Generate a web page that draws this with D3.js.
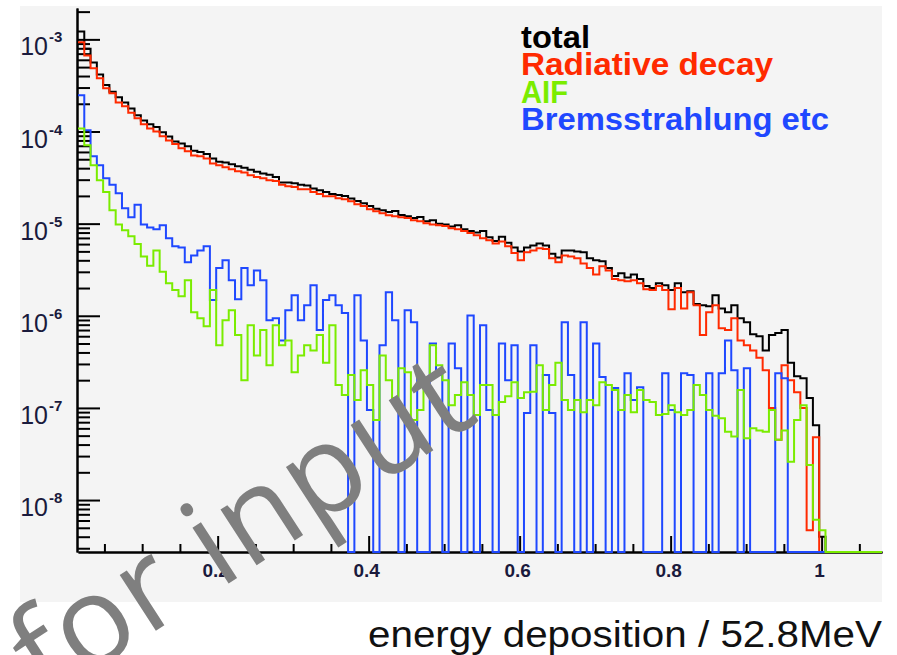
<!DOCTYPE html>
<html>
<head>
<meta charset="utf-8">
<script src="https://cdn.jsdelivr.net/npm/d3@7"></script>
<style>
  body { margin: 0; background: #fff; }
  svg { display: block; }
</style>
</head>
<body>
<svg id="canvas" width="897" height="655"></svg>
<script>
// energy deposition / 52.8MeV, 128 bins between these two edges
let xLow = 0.015
let xHigh = 1.08
let yLow = 2.73e-9
let yHigh = 2.19e-3

// bin contents (0 = empty bin, drawn on the frame bottom like ROOT does)
let total = [
  1.22e-3, 7.9e-4, 5.6e-4, 4.15e-4, 3.2e-4, 2.7e-4, 2.35e-4, 2.07e-4, 1.78e-4, 1.5e-4,
  1.32e-4, 1.2e-4, 1.12e-4, 9.8e-5, 8.8e-5, 7.8e-5, 7.4e-5, 6.9e-5, 6.2e-5, 6.0e-5,
  5.7e-5, 5.1e-5, 4.7e-5, 4.6e-5, 4.4e-5, 4.2e-5, 4.05e-5, 3.85e-5, 3.65e-5, 3.5e-5,
  3.4e-5, 3.2e-5, 2.8e-5, 2.8e-5, 2.75e-5, 2.65e-5, 2.6e-5, 2.4e-5, 2.3e-5, 2.2e-5,
  2.1e-5, 2.05e-5, 2.0e-5, 1.87e-5, 1.76e-5, 1.66e-5, 1.55e-5, 1.45e-5, 1.4e-5, 1.34e-5,
  1.37e-5, 1.24e-5, 1.2e-5, 1.15e-5, 1.18e-5, 1.06e-5, 1.09e-5, 1.0e-5, 9.8e-6, 9.3e-6,
  9.6e-6, 8.7e-6, 8.3e-6, 8.0e-6, 8.3e-6, 7.1e-6, 6.5e-6, 7.2e-6, 6.2e-6, 5.5e-6,
  5.0e-6, 5.5e-6, 5.8e-6, 6.1e-6, 5.8e-6, 4.7e-6, 4.3e-6, 5.1e-6, 5.1e-6, 5.0e-6,
  4.9e-6, 4.2e-6, 4.0e-6, 3.9e-6, 3.3e-6, 2.7e-6, 2.9e-6, 2.6e-6, 2.8e-6, 2.5e-6,
  2.1e-6, 2.0e-6, 2.25e-6, 2.15e-6, 1.9e-6, 2.25e-6, 1.8e-6, 1.85e-6, 1.34e-6, 1.3e-6,
  1.27e-6, 1.67e-6, 1.2e-6, 1.09e-6, 1.3e-6, 9.4e-7, 8.5e-7, 6.3e-7, 6.0e-7, 4.2e-7,
  6.2e-7, 6.5e-7, 7.0e-7, 3.1e-7, 2.2e-7, 2.1e-7, 1.28e-7, 6.5e-8, 4.0e-9, 0,
  0, 0, 0, 0, 0, 0, 0, 0
]
let radiative = [
  9.3e-4, 6.7e-4, 4.85e-4, 3.78e-4, 2.94e-4, 2.6e-4, 2.07e-4, 1.88e-4, 1.6e-4, 1.39e-4,
  1.2e-4, 1.08e-4, 1.0e-4, 8.9e-5, 8.0e-5, 7.3e-5, 6.6e-5, 6.1e-5, 5.5e-5, 5.4e-5,
  5.1e-5, 4.5e-5, 4.3e-5, 4.1e-5, 3.9e-5, 3.7e-5, 3.6e-5, 3.35e-5, 3.2e-5, 3.1e-5,
  2.96e-5, 2.9e-5, 2.65e-5, 2.55e-5, 2.5e-5, 2.36e-5, 2.36e-5, 2.2e-5, 2.1e-5, 1.98e-5,
  1.98e-5, 1.89e-5, 1.84e-5, 1.75e-5, 1.62e-5, 1.55e-5, 1.43e-5, 1.36e-5, 1.3e-5, 1.23e-5,
  1.2e-5, 1.17e-5, 1.15e-5, 1.09e-5, 1.06e-5, 1.01e-5, 9.8e-6, 9.6e-6, 9.4e-6, 8.9e-6,
  8.7e-6, 8.3e-6, 7.9e-6, 7.5e-6, 6.95e-6, 6.6e-6, 6.1e-6, 6.4e-6, 5.7e-6, 4.8e-6,
  4.0e-6, 4.9e-6, 5.1e-6, 5.4e-6, 5.3e-6, 4.2e-6, 3.8e-6, 4.5e-6, 4.4e-6, 4.2e-6,
  3.7e-6, 3.3e-6, 2.8e-6, 3.45e-6, 3.1e-6, 2.5e-6, 2.43e-6, 2.37e-6, 2.43e-6, 2.25e-6,
  1.94e-6, 1.9e-6, 2.1e-6, 1.9e-6, 1.18e-6, 2.0e-6, 1.2e-6, 1.8e-6, 1.3e-6, 6.2e-7,
  1.09e-6, 1.3e-6, 7.3e-7, 7.0e-7, 9.4e-7, 5.4e-7, 4.8e-7, 4.2e-7, 3.5e-7, 2.57e-7,
  1.0e-7, 4.5e-8, 2.9e-7, 2.0e-7, 1.48e-7, 1.0e-7, 4.7e-9, 4.8e-8, 0, 0,
  0, 0, 0, 0, 0, 0, 0, 0
]
let aif = [
  1.08e-4, 7.1e-5, 4.3e-5, 2.96e-5, 2.2e-5, 1.4e-5, 9.8e-6, 8.5e-6, 7.3e-6, 6.0e-6,
  4.4e-6, 3.5e-6, 5.1e-6, 3.0e-6, 2.25e-6, 1.9e-6, 1.63e-6, 2.43e-6, 1.09e-6, 9.4e-7,
  7.7e-7, 1.9e-6, 4.8e-7, 8.95e-7, 1.15e-6, 6.2e-7, 2.0e-7, 7.9e-7, 3.7e-7, 7.0e-7,
  2.9e-7, 7.9e-7, 4.8e-7, 5.4e-7, 2.44e-7, 3.7e-7, 4.8e-7, 4.2e-7, 6.2e-7, 3.1e-7,
  7.9e-7, 1.77e-7, 1.38e-7, 2.27e-7, 1.22e-7, 2.57e-7, 1.77e-7, 7.4e-8, 3.7e-7, 2.0e-7,
  1.28e-7, 2.7e-7, 2.44e-7, 7.4e-8, 9.5e-8, 2.1e-7, 4.8e-7, 2.9e-7, 2.0e-7, 1.07e-7,
  1.38e-7, 1.9e-7, 1.38e-7, 8.4e-8, 1.77e-7, 1.77e-7, 8.4e-8, 1.16e-7, 1.34e-7, 1.9e-7,
  1.28e-7, 1.48e-7, 1.5e-7, 2.9e-7, 9.5e-8, 1.77e-7, 3.1e-7, 1.22e-7, 9.5e-8, 1.22e-7,
  9.0e-8, 1.22e-7, 1.07e-7, 1.9e-7, 1.77e-7, 1.56e-7, 9.5e-8, 1.38e-7, 9.0e-8, 1.56e-7,
  1.22e-7, 1.16e-7, 8.4e-8, 8.6e-8, 1.07e-7, 9.0e-8, 8.4e-8, 9.5e-8, 1.77e-7, 1.38e-7,
  9.5e-8, 8.2e-8, 7.7e-8, 5.5e-8, 4.9e-8, 1.56e-7, 4.7e-8, 6.0e-8, 5.7e-8, 5.5e-8,
  9.5e-8, 4.5e-8, 5.7e-8, 2.6e-8, 7.4e-8, 1.07e-7, 2.4e-8, 6.1e-9, 4.7e-9, 0,
  0, 0, 0, 0, 0, 0, 0, 0
]
let brems = [
  2.47e-4, 1.03e-4, 5.4e-5, 4.3e-5, 3.1e-5, 2.65e-5, 2.14e-5, 1.47e-5, 1.17e-5, 1.6e-5,
  9.8e-6, 9.1e-6, 8.7e-6, 9.6e-6, 6.95e-6, 5.7e-6, 5.5e-6, 3.8e-6, 4.5e-6, 5.1e-6,
  5.7e-6, 1.48e-6, 3.3e-6, 4.0e-6, 2.43e-6, 1.51e-6, 3.3e-6, 2.15e-6, 3.1e-6, 2.43e-6,
  8.95e-7, 9.4e-7, 5.4e-7, 1.15e-6, 1.67e-6, 8.95e-7, 1.3e-6, 2.15e-6, 7.0e-7, 1.48e-6,
  1.67e-6, 1.3e-6, 1.07e-6, 0, 1.67e-6, 5.4e-7, 9.5e-8, 0, 4.8e-7, 1.8e-6,
  8.95e-7, 0, 1.15e-6, 8.5e-7, 0, 0, 5.0e-7, 2.27e-7, 0, 5.0e-7,
  2.7e-7, 0, 1.01e-6, 0, 7.9e-7, 9.5e-8, 0, 5.0e-7, 2.0e-7, 4.8e-7,
  0, 8.8e-8, 4.8e-7, 0, 2.27e-7, 8.8e-8, 0, 8.5e-7, 2.27e-7, 0,
  8.5e-7, 0, 5.0e-7, 2.16e-7, 0, 1.64e-7, 0, 2.38e-7, 1.22e-7, 1.68e-7,
  0, 0, 0, 2.38e-7, 9.5e-8, 0, 2.38e-7, 2.27e-7, 0, 0,
  2.38e-7, 0, 2.38e-7, 5.4e-7, 2.57e-7, 0, 2.7e-7, 0, 0, 0,
  0, 2.38e-7, 2.1e-7, 0, 0, 0, 0, 0, 0, 0,
  0, 0, 0, 0, 0, 0, 0, 0
]

let legendNames = ['total', 'Radiative decay', 'AIF', 'Bremsstrahlung etc']
let yTickPowers = [-8, -7, -6, -5, -4, -3]
let xTickLabels = [0.2, 0.4, 0.6, 0.8, 1]
let xTitle = 'energy deposition / 52.8MeV'
let stamp = 'for input'

let svg = d3.select('#canvas')
let frame = {left: 78, right: 882, top: 8, bottom: 552}
let labelColor = '#1a1a3c'

// grey pad like the ROOT canvas
svg.append('rect')
   .attr('x', 20).attr('y', 6)
   .attr('width', 862).attr('height', 596)
   .attr('fill', '#f4f4f4')

let xScale = d3.scaleLinear().domain([xLow, xHigh]).range([frame.left, frame.right])
let yScale = d3.scaleLog().domain([yLow, yHigh]).range([frame.bottom, frame.top])

// axes first, the histograms are painted over the frame
let majorY = yTickPowers.map(p => Math.pow(10, p))
let minorY = []
for (let p = -9; p <= -3; p++) {
    for (let m = 2; m <= 9; m++) {
        let v = m * Math.pow(10, p)
        if (v >= yLow && v <= yHigh) minorY.push(v)
    }
}

svg.append('g')
   .attr('transform', 'translate(' + (frame.left - 1) + ',0)')
   .call(d3.axisRight(yScale).tickValues(majorY).tickSize(23).tickSizeOuter(0).tickFormat(''))
svg.append('g')
   .attr('transform', 'translate(' + (frame.left - 1) + ',0)')
   .call(d3.axisRight(yScale).tickValues(minorY).tickSize(13).tickSizeOuter(0).tickFormat(''))

// x axis, ticks pointing up
let minorX = d3.range(1, 22).map(i => i * 0.05).filter(v => xTickLabels.indexOf(+v.toFixed(2)) < 0)
svg.append('g')
   .attr('transform', 'translate(0,' + frame.bottom + ')')
   .call(d3.axisTop(xScale).tickValues(xTickLabels).tickSize(16).tickSizeOuter(0).tickFormat(''))
svg.append('g')
   .attr('transform', 'translate(0,' + frame.bottom + ')')
   .call(d3.axisTop(xScale).tickValues(minorX).tickSize(8).tickSizeOuter(0).tickFormat(''))

svg.selectAll('.domain, .tick line')
   .attr('stroke', '#000')
   .attr('stroke-width', 2)

// bin edges come from the axis range, each histogram has the same binning
let nBins = total.length
let binEdge = (i) => xLow + i * (xHigh - xLow) / nBins

let histPoints = (values) => {
    let pts = []
    values.forEach((v, i) => {
        // empty bins sit on the bottom of the frame
        let y = v > 0 ? Math.max(v, yLow) : yLow
        pts.push([binEdge(i), y])
        pts.push([binEdge(i + 1), y])
    })
    return pts
}

let line = d3.line()
             .x(d => xScale(d[0]))
             .y(d => yScale(d[1]))

// same drawing order as the original macro
let histos = [
    {values: total, color: '#000000'},
    {values: radiative, color: '#ff2a00'},
    {values: brems, color: '#1f48ff'},
    {values: aif, color: '#7aec00'}
]

svg.selectAll('path.hist')
   .data(histos)
   .enter()
   .append('path')
   .attr('class', 'hist')
   .attr('d', d => line(histPoints(d.values)))
   .attr('fill', 'none')
   .attr('stroke', d => d.color)
   .attr('stroke-width', 2)

// ROOT style 10^n labels
let yLabels = svg.selectAll('g.ylab')
                 .data(yTickPowers)
                 .enter()
                 .append('g')
                 .attr('class', 'ylab')
                 .attr('font-family', 'Liberation Sans, Arial, sans-serif')
                 .attr('fill', labelColor)
yLabels.append('text')
       .attr('x', 48)
       .attr('y', d => yScale(Math.pow(10, d)) + 16)
       .attr('text-anchor', 'end')
       .attr('font-size', 25)
       .text('10')
yLabels.append('text')
       .attr('x', 49)
       .attr('y', d => yScale(Math.pow(10, d)) + 3)
       .attr('font-size', 15)
       .attr('font-weight', 'bold')
       .text(d => '-' + Math.abs(d))

svg.selectAll('text.xlab')
   .data(xTickLabels)
   .enter()
   .append('text')
   .attr('class', 'xlab')
   .attr('x', d => xScale(d) - 2)
   .attr('y', 577)
   .attr('text-anchor', 'middle')
   .attr('font-family', 'Liberation Sans, Arial, sans-serif')
   .attr('font-size', 19)
   .attr('font-weight', 'bold')
   .attr('fill', labelColor)
   .text(d => d)

// legend, text only; the old canvas stretched these a bit wide
let legendWidths = [69, 252, 47, 308]
svg.selectAll('text.legend')
   .data(legendNames)
   .enter()
   .append('text')
   .attr('class', 'legend')
   .attr('x', 521)
   .attr('y', (d, i) => 48 + i * 27.3)
   .attr('font-family', 'Liberation Sans, Arial, sans-serif')
   .attr('font-size', 31)
   .attr('font-weight', 'bold')
   .attr('textLength', (d, i) => legendWidths[i])
   .attr('lengthAdjust', 'spacingAndGlyphs')
   .attr('fill', (d, i) => histos[[0, 1, 3, 2][i]].color)
   .text(d => d)

svg.append('text')
   .attr('x', 368)
   .attr('y', 647)
   .attr('font-family', 'Liberation Sans, Arial, sans-serif')
   .attr('font-size', 36)
   .attr('textLength', 514)
   .attr('lengthAdjust', 'spacingAndGlyphs')
   .attr('fill', '#111')
   .text(xTitle)

// the grey stamp lies over everything
svg.append('text')
   .attr('transform', 'translate(46,702) rotate(-33)')
   .attr('font-family', 'Open Sans, sans-serif')
   .attr('font-size', 124)
   .attr('letter-spacing', 2)
   .attr('fill', '#7f7f7f')
   .text(stamp)
</script>
</body>
</html>
